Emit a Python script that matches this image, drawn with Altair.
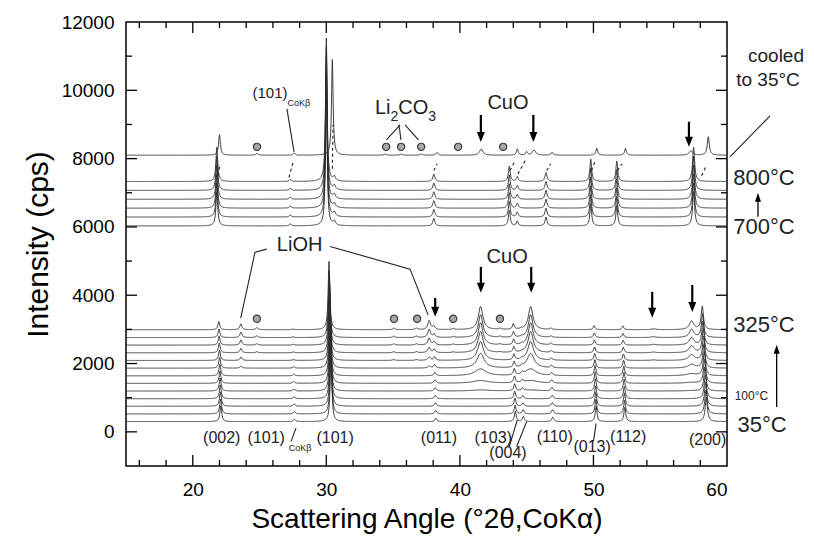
import altair as alt
import numpy as np
import pandas as pd

alt.data_transformers.disable_max_rows()

W, H = 601, 444
X_DOMAIN = [15, 60]
Y_DOMAIN = [-1000, 12000]
FONT = "Liberation Sans"

# ---------------- data ----------------
lower_temps = [35, 50, 75, 100, 125, 150, 175, 200, 225, 250, 275, 300, 325]
lower_base = [300, 525, 750, 970, 1195, 1420, 1640, 1865, 2090, 2315, 2540, 2760, 2990]
upper_temps = [700, 720, 740, 760, 780, 800]
upper_base = [6030, 6290, 6550, 6810, 7070, 7330]
cooled_base = 8100

cuo_w = [.8, .8, .8, .8, .8, .7, .5, .32, .26, .23, .21, .2, .2]
# lower group peaks: position at 35 C, position at 325 C, half width, heights per curve
low_pos0 = [22.10, 23.65, 24.80, 27.62, 30.35, 35.05, 36.75, 37.70, 38.20, 39.50,
            41.55, 43.00, 44.15, 44.75, 45.30, 46.95, 50.20, 52.35, 54.50, 57.35, 58.45]
low_pos1 = [21.95, 23.60, 24.80, 27.50, 30.20, 35.05, 36.75, 37.70, 38.05, 39.50,
            41.55, 43.00, 44.00, 44.60, 45.30, 46.80, 50.05, 52.20, 54.50, 57.35, 58.15]
low_w = [.08, .09, .1, .08, .075, .1, .1, .12, .09, .1,
         cuo_w, .1, .08, .08, cuo_w, .09, .08, .08, .2, cuo_w, .1]
low_h = [
    [460, 440, 420, 400, 380, 360, 340, 320, 300, 290, 270, 255, 240],
    [0, 0, 0, 0, 0, 0, 0, 60, 100, 130, 150, 160, 170],
    [0, 0, 0, 0, 0, 0, 0, 0, 0, 30, 40, 50, 60],
    [70, 70, 65, 60, 60, 55, 50, 40, 30, 25, 20, 20, 20],
    [2050, 2050, 2000, 2000, 2000, 2000, 1980, 1980, 1980, 1980, 1980, 1990, 2000],
    [0, 0, 0, 0, 0, 0, 0, 0, 25, 30, 35, 40, 45],
    [0, 0, 0, 0, 0, 0, 0, 0, 25, 30, 35, 40, 45],
    [0, 0, 0, 0, 0, 0, 0, 60, 100, 150, 200, 240, 270],
    [100, 100, 100, 100, 100, 100, 100, 100, 100, 100, 100, 100, 100],
    [0, 0, 0, 0, 0, 0, 0, 0, 0, 20, 25, 30, 30],
    [0, 0, 0, 0, 30, 80, 200, 430, 550, 620, 650, 670, 680],
    [0, 0, 0, 0, 0, 0, 0, 0, 0, 20, 25, 30, 30],
    [300, 260, 240, 220, 200, 190, 180, 170, 170, 165, 160, 160, 160],
    [150, 120, 100, 90, 80, 70, 60, 40, 30, 20, 20, 20, 20],
    [0, 0, 0, 0, 30, 80, 200, 430, 550, 620, 650, 670, 680],
    [130, 120, 110, 100, 100, 90, 80, 70, 60, 50, 50, 40, 40],
    [450, 430, 400, 380, 360, 340, 300, 250, 200, 170, 150, 130, 120],
    [420, 400, 380, 360, 340, 320, 280, 230, 190, 160, 140, 120, 110],
    [0, 0, 0, 0, 0, 0, 0, 0, 15, 20, 20, 25, 25],
    [0, 0, 0, 0, 10, 25, 60, 110, 170, 200, 220, 240, 250],
    [700, 700, 700, 700, 700, 700, 700, 700, 700, 700, 690, 690, 680],
]
# heating 700-800 C peaks
up_pos = [21.80, 27.30, 30.00, 30.60, 38.05, 43.70, 44.30, 46.45, 49.80, 51.75, 57.50]
up_w = [.08, .08, .07, .1, .09, .08, .08, .09, .08, .08, .09]
up_h = [1000, 60, 4200, 120, 220, 450, 140, 260, 650, 600, 1000]
# cooled to 35 C
cool_pos = [22.00, 24.80, 27.60, 30.45, 34.40, 35.60, 37.10, 38.30, 41.60, 44.30,
            45.00, 45.55, 46.90, 50.25, 52.40, 57.30, 58.60]
cool_w = [.08, .1, .08, .07, .1, .1, .1, .09, .15, .08, .08, .15, .09, .08, .08, .15, .09]
cool_h = [600, 50, 60, 2800, 30, 30, 30, 80, 180, 180, 100, 150, 80, 200, 200, 130, 540]

# annotations (data coordinates)
circle_x = [24.81, 34.48, 35.60, 37.10, 39.87, 43.24, 24.80, 35.07, 36.80, 39.50, 43.00]
circle_y = [8345, 8345, 8345, 8345, 8345, 8345, 3310, 3310, 3310, 3310, 3310]

label_text = ["(101)", "CoKβ", "Li", "2", "CO", "3", "CuO", "CuO", "LiOH",
              "(002)", "(101)", "CoKβ", "(101)", "(011)", "(103)", "(004)", "(110)",
              "(013)", "(112)", "(200)",
              "cooled", "to 35°C", "800°C", "700°C", "325°C", "100°C", "35°C"]
label_x = [25.78, 27.95, 34.22, 35.10, 36.51, 37.93, 43.60, 43.54, 28.00,
           22.17, 25.50, 28.03, 30.66, 38.43, 42.50, 43.60, 47.10,
           49.90, 52.60, 58.55,
           63.67, 63.07, 62.77, 62.77, 62.77, 61.83, 62.62]
label_y = [9925, 9630, 9490, 9225, 9490, 9225, 9630, 5120, 5480,
           -176, -176, -470, -176, -176, -176, -620, -150,
           -440, -150, -240,
           11010, 10307, 7437, 6003, 3133, 1048, 199]
label_size = [15, 9, 20, 14, 20, 14, 20, 20, 20,
              16, 16, 9, 16, 16, 16, 16, 16,
              16, 16, 16,
              19, 19, 22, 22, 22, 12, 22]

leader_id = ["kbt", "kbt", "la", "la", "lb", "lb", "lc", "lc",
             "ol", "ol", "ol", "or", "or", "or", "kbb", "kbb",
             "p103", "p103", "p004", "p004", "p013", "p013", "cool", "cool"]
leader_x = [27.05, 27.58, 35.52, 34.50, 35.44, 35.59, 35.89, 36.90,
            25.54, 24.66, 23.59, 30.28, 36.27, 37.62, 27.36, 27.73,
            43.70, 44.30, 44.25, 45.00, 50.00, 50.20, 60.22, 63.22]
leader_y = [9455, 8196, 8990, 8550, 8990, 8550, 8990, 8550,
            5350, 5260, 3330, 5426, 4764, 3426, -280, 110,
            -430, 350, -430, 300, -280, 250, 8050, 9250]

dash_x1 = [21.90, 27.20, 30.45, 38.05, 43.75, 44.35, 46.50, 49.85, 51.80, 58.10]
dash_y1 = [7500, 7450, 7700, 7650, 7650, 7550, 7650, 7650, 7650, 7500]
dash_x2 = [22.05, 27.55, 30.50, 38.30, 44.15, 44.90, 46.80, 50.15, 52.15, 58.40]
dash_y2 = [7850, 7950, 9000, 7850, 7950, 7950, 7850, 7950, 7850, 7750]

down_x = [41.57, 45.50, 57.15, 41.57, 45.34, 38.15, 54.40, 57.40]
down_top = [9280, 9280, 9080, 4830, 4830, 3920, 4100, 4300]
down_tip = [8490, 8490, 8345, 4070, 4070, 3370, 3340, 3510]
up_x = [62.32, 63.72]
up_bottom = [6300, 730]
up_tip = [7000, 2550]

x_major = [20, 30, 40, 50]
x_minor = [16, 18, 22, 24, 26, 28, 32, 34, 36, 38, 42, 44, 46, 48, 52, 54, 56, 58]
y_major = [0, 2000, 4000, 6000, 8000, 10000]
y_minor = [1000, 3000, 5000, 7000, 9000, 11000]
x_labels = [20, 30, 40, 50, 60]
y_labels = [0, 2000, 4000, 6000, 8000, 10000, 12000]

# ---------------- build curves ----------------
grid = np.round(np.arange(15.0, 60.0001, 0.025), 3)


def profile(base, peaks):
    y = np.full(grid.shape, float(base))
    for p, w, h in peaks:
        if h > 0:
            y += h / (1.0 + ((grid - p) / w) ** 2)
    return y


frames = []
n_low = len(lower_base)
for i in range(n_low):
    f = i / (n_low - 1)
    pk = []
    for j in range(len(low_pos0)):
        w = low_w[j][i] if isinstance(low_w[j], list) else low_w[j]
        pk.append((low_pos0[j] + (low_pos1[j] - low_pos0[j]) * f, w, low_h[j][i]))
    frames.append(pd.DataFrame({"x": grid, "y": np.round(profile(lower_base[i], pk), 1),
                                "curve": f"{lower_temps[i]}C"}))
for i, b in enumerate(upper_base):
    pk = list(zip(up_pos, up_w, up_h))
    frames.append(pd.DataFrame({"x": grid, "y": np.round(profile(b, pk), 1),
                                "curve": f"{upper_temps[i]}C"}))
frames.append(pd.DataFrame({"x": grid,
                            "y": np.round(profile(cooled_base, zip(cool_pos, cool_w, cool_h)), 1),
                            "curve": "cooled"}))
curves = pd.concat(frames, ignore_index=True)

xs = alt.Scale(domain=X_DOMAIN, nice=False, zero=False)
ys = alt.Scale(domain=Y_DOMAIN, nice=False, zero=False)
AX = alt.Axis(values=x_labels, tickSize=0, domain=False, grid=False,
              labelFontSize=19, labelPadding=14, title="Scattering Angle (°2θ,CoKα)",
              titleFontSize=28, titlePadding=6)
AY = alt.Axis(values=y_labels, format="d", tickSize=0, domain=False, grid=False,
              labelFontSize=19, labelPadding=12, title="Intensity (cps)",
              titleFontSize=30, titlePadding=8)


def X(field):
    return alt.X(field, scale=xs, axis=AX)


def Y(field):
    return alt.Y(field, scale=ys, axis=AY)


lines = alt.Chart(curves).mark_line(color="#2a2a2a", strokeWidth=0.9, clip=True).encode(
    x=X("x:Q"), y=Y("y:Q"), detail="curve:N")


def tick_layer(vals, axis, side, length):
    df = pd.DataFrame({"v": vals})
    base = alt.Chart(df).mark_rule(color="black", strokeWidth=1.3)
    if axis == "x":
        y0 = H if side == "bottom" else 0
        y1 = H - length if side == "bottom" else length
        return base.encode(x=X("v:Q"), y=alt.value(y0), y2=alt.value(y1))
    x0 = 0 if side == "left" else W
    x1 = length if side == "left" else W - length
    return base.encode(y=Y("v:Q"), x=alt.value(x0), x2=alt.value(x1))


ticks = [
    tick_layer(x_major, "x", "bottom", 11), tick_layer(x_minor, "x", "bottom", 6),
    tick_layer(x_major, "x", "top", 11), tick_layer(x_minor, "x", "top", 6),
    tick_layer(y_major, "y", "left", 11), tick_layer(y_minor, "y", "left", 6),
    tick_layer(y_major, "y", "right", 11), tick_layer(y_minor, "y", "right", 6),
]

circles = alt.Chart(pd.DataFrame({"x": circle_x, "y": circle_y})).mark_point(
    shape="circle", filled=True, fill="#a8a8a8", stroke="#3a3a3a", strokeWidth=1.2,
    size=52, opacity=1).encode(x=X("x:Q"), y=Y("y:Q"))

labels = alt.Chart(pd.DataFrame({"x": label_x, "y": label_y, "t": label_text,
                                 "s": label_size})).mark_text(
    font=FONT, align="center", baseline="middle", color="#222").encode(
    x=X("x:Q"), y=Y("y:Q"), text="t:N", size=alt.Size("s:Q", scale=None, legend=None))

order = list(range(len(leader_id)))
leaders = alt.Chart(pd.DataFrame({"id": leader_id, "x": leader_x, "y": leader_y,
                                  "o": order})).mark_line(color="#222", strokeWidth=1.1).encode(
    x=X("x:Q"), y=Y("y:Q"), detail="id:N", order="o:Q")

dashes = alt.Chart(pd.DataFrame({"x": dash_x1, "y": dash_y1, "x2": dash_x2, "y2": dash_y2})).mark_rule(
    color="#222", strokeWidth=1.1, strokeDash=[3, 3]).encode(
    x=X("x:Q"), y=Y("y:Q"), x2="x2:Q", y2="y2:Q")

shaft_down = alt.Chart(pd.DataFrame({"x": down_x, "a": down_top,
                                     "b": [t + 180 for t in down_tip]})).mark_rule(
    color="black", strokeWidth=2.2).encode(x=X("x:Q"), y=Y("a:Q"), y2="b:Q")
head_down = alt.Chart(pd.DataFrame({"x": down_x, "y": down_tip})).mark_point(
    shape="M-1,-2.5L1,-2.5L0,0Z", filled=True, color="black", size=64, opacity=1).encode(
    x=X("x:Q"), y=Y("y:Q"))

shaft_up = alt.Chart(pd.DataFrame({"x": up_x, "a": up_bottom,
                                   "b": [t - 150 for t in up_tip]})).mark_rule(
    color="black", strokeWidth=1.3).encode(x=X("x:Q"), y=Y("a:Q"), y2="b:Q")
head_up = alt.Chart(pd.DataFrame({"x": up_x, "y": up_tip})).mark_point(
    shape="M-1,3L1,3L0,0Z", filled=True, color="black", size=36, opacity=1).encode(
    x=X("x:Q"), y=Y("y:Q"))

chart = alt.layer(lines, *ticks, circles, leaders, dashes, shaft_down, head_down,
                  shaft_up, head_up, labels).properties(
    width=W, height=H,
    padding={"left": 118, "top": 14, "right": 79, "bottom": 72},
    autosize=alt.AutoSizeParams(type="none"),
).configure_view(stroke="black", strokeWidth=1.5).configure_axis(
    labelFont=FONT, titleFont=FONT, labelColor="black", titleColor="black",
    titleFontWeight="normal")

chart.save("out.html", embed_options={"renderer": "svg", "actions": False})
